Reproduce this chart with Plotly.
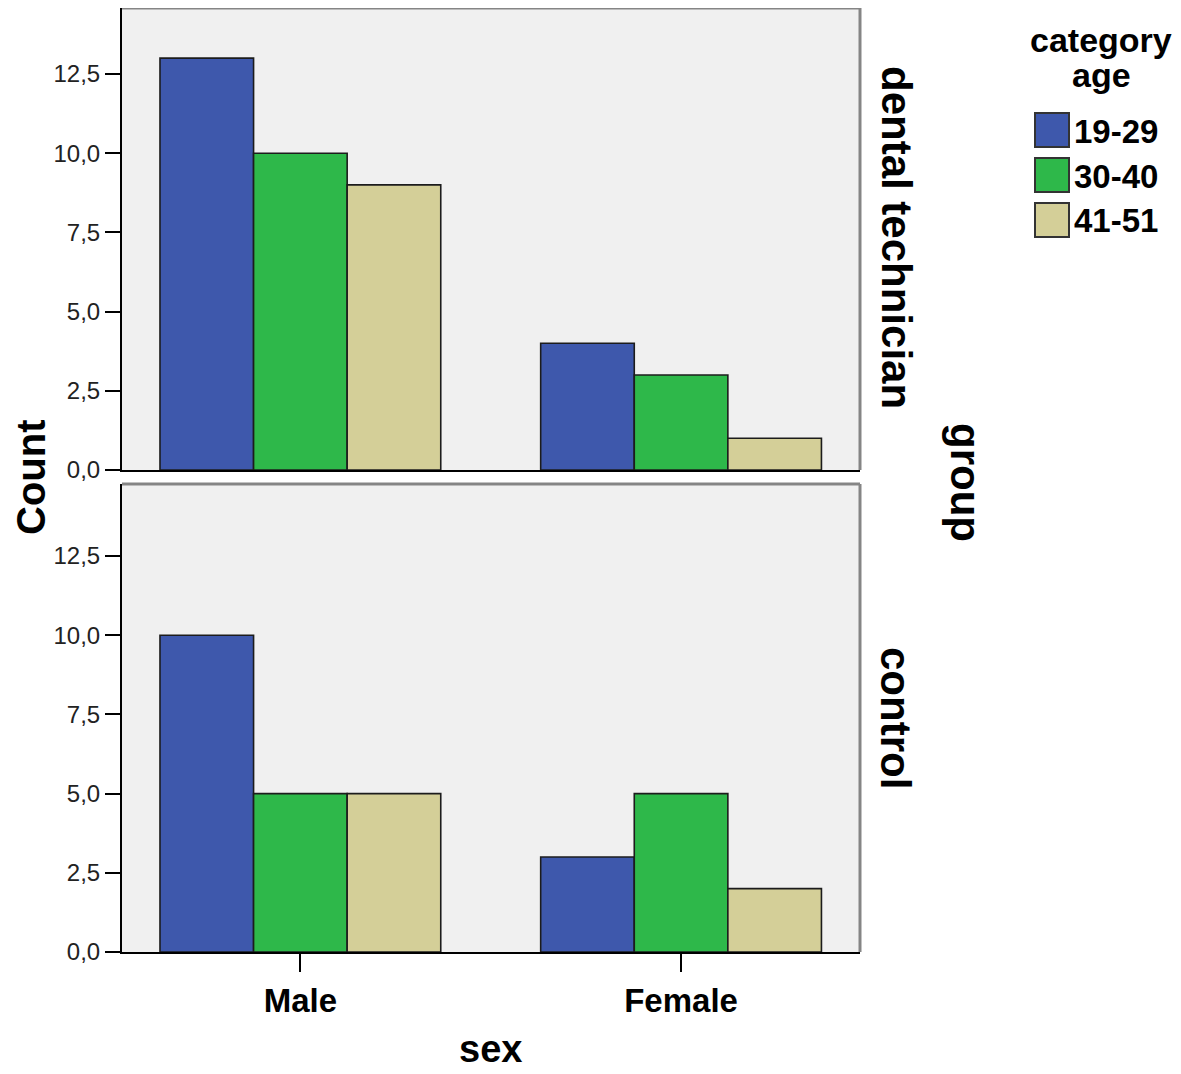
import plotly.graph_objects as go
from plotly.subplots import make_subplots

sexes = ['Male', 'Female']
age_groups = ['19-29', '30-40', '41-51']
colors = ['#3E58AC', '#2EB84A', '#D4CF98']

# counts per age group, order follows sexes
dental = {'19-29': [13, 4], '30-40': [10, 3], '41-51': [9, 1]}
control = {'19-29': [10, 3], '30-40': [5, 5], '41-51': [5, 2]}

ytick_vals = [0, 2.5, 5, 7.5, 10, 12.5]
ytick_text = ['0,0', '2,5', '5,0', '7,5', '10,0', '12,5']

# the page body has an 8px margin, so the figure starts at (8, 8)
OFF = 8
W, H = 1181 - OFF, 1074 - OFF
FONT = 'Liberation Sans'
SCALE = 31.68  # pixels per count unit

fig = make_subplots(rows=2, cols=1, shared_xaxes=True)

for row, data in [(1, dental), (2, control)]:
    for ag, col in zip(age_groups, colors):
        fig.add_trace(go.Bar(x=sexes, y=data[ag], name=ag, marker_color=col,
                             marker_line=dict(color='#1c1c1c', width=1.6),
                             showlegend=False), row=row, col=1)

# screen pixel -> paper coords
def px_x(p):
    return (p - OFF) / W

def px_y(p):
    return min(1.0, 1 - (p - OFF) / H)

xdom = [px_x(122), px_x(860)]
top1 = max(OFF, 2)
fig.update_layout(
    width=W, height=H,
    margin=dict(l=0, r=0, t=0, b=0),
    paper_bgcolor='white', plot_bgcolor='#F0F0F0',
    barmode='group', bargap=0.2625, bargroupgap=0,
    font=dict(family=FONT, color='#111'),
    showlegend=False,
    xaxis=dict(domain=xdom, anchor='y', range=[-0.4685, 1.47], showticklabels=False,
               ticks='', showline=True, linecolor='black', linewidth=2, showgrid=False,
               automargin=False),
    xaxis2=dict(domain=xdom, anchor='y2', range=[-0.4685, 1.47], ticks='outside',
                ticklen=18, tickwidth=2, tickcolor='black', showline=True,
                linecolor='black', linewidth=2, showgrid=False, automargin=False,
                tickfont=dict(size=33, family=FONT, color='black', weight='bold')),
    yaxis=dict(domain=[px_y(470), px_y(top1)], range=[0, (470 - top1) / SCALE]),
    yaxis2=dict(domain=[px_y(952), px_y(484)], range=[0, (952 - 484) / SCALE]),
)

for ax in ['yaxis', 'yaxis2']:
    fig.layout[ax].update(tickvals=ytick_vals, ticktext=ytick_text, ticks='outside',
                          ticklen=15, tickwidth=2, tickcolor='black', showline=True,
                          linecolor='black', linewidth=2, showgrid=False, zeroline=False,
                          automargin=False, tickfont=dict(size=24, family=FONT, color='#222'))

# gray top/right frame of each panel
for xr, yr in [('x domain', 'y domain'), ('x2 domain', 'y2 domain')]:
    fig.add_shape(type='line', xref=xr, yref=yr, x0=0, x1=1, y0=1, y1=1,
                  line=dict(color='#858585', width=3))
    fig.add_shape(type='line', xref=xr, yref=yr, x0=1, x1=1, y0=0, y1=1,
                  line=dict(color='#858585', width=3))

def label(text, x, y, size, angle=0, bold=True):
    fig.add_annotation(text=text, x=px_x(x), y=px_y(y), xref='paper', yref='paper',
                       showarrow=False, textangle=angle, xanchor='center', yanchor='middle',
                       borderpad=0,
                       font=dict(size=size, family=FONT, color='black',
                                 weight='bold' if bold else 'normal'))

label('Count', 31, 477, 40, angle=-90)
label('sex', 490, 1049, 38)
label('group', 966, 482, 42, angle=90)
label('dental technician', 896, 237, 42, angle=90)
label('control', 896, 718, 42, angle=90)

# legend
label('category', 1101, 40, 34)
label('age', 1101, 75, 34)
for i, (ag, col) in enumerate(zip(age_groups, colors)):
    top = 113 + i * 45
    fig.add_shape(type='rect', xref='paper', yref='paper',
                  x0=px_x(1035), x1=px_x(1069), y0=px_y(top + 34), y1=px_y(top),
                  fillcolor=col, line=dict(color='#333', width=2))
    fig.add_annotation(text=ag, x=px_x(1072), y=px_y(top + 18), xref='paper', yref='paper',
                       showarrow=False, xanchor='left', yanchor='middle',
                       font=dict(size=33, family=FONT, color='black', weight='bold'))

fig.write_html("out.html")
